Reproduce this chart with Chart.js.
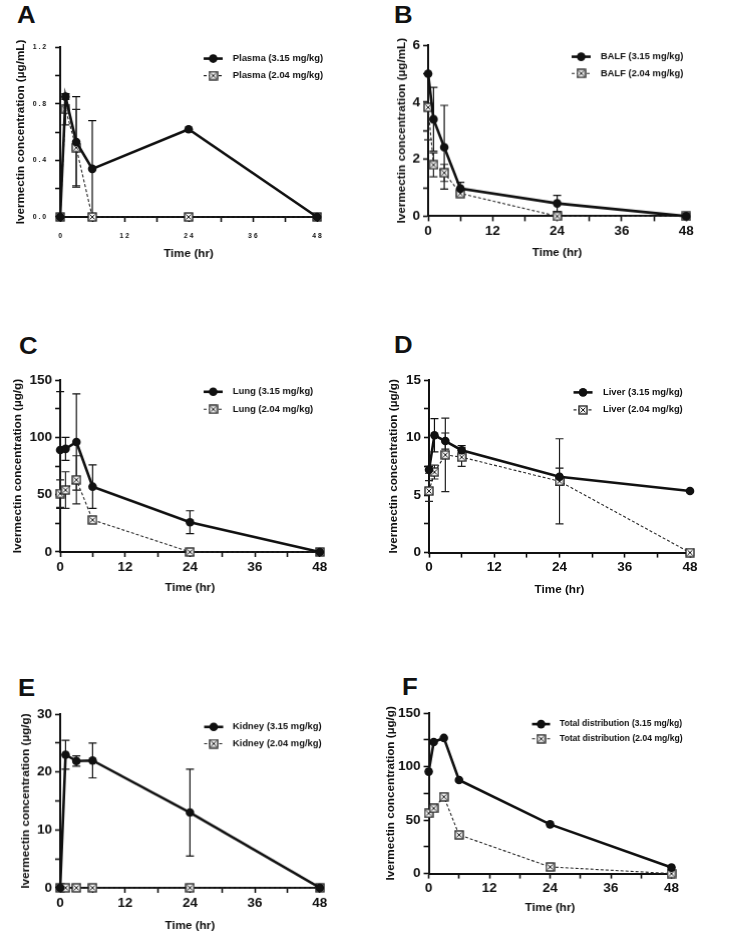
<!DOCTYPE html>
<html>
<head>
<meta charset="utf-8">
<script src="https://cdn.jsdelivr.net/npm/chart.js@4/dist/chart.umd.min.js"></script>
<style>
  body { margin: 0; background: #fff; width: 731px; height: 944px; position: relative; overflow: hidden;
         font-family: "Liberation Sans", Arial, sans-serif; }
  .letter { position: absolute; font-weight: bold; font-size: 23px; line-height: 1; color: #111;
            transform: scaleX(1.12); transform-origin: left top; }
  .box { position: absolute; }
</style>
</head>
<body>
<div class="letter" style="left:17px;top:4px">A</div>
<div class="letter" style="left:394px;top:4px">B</div>
<div class="letter" style="left:19px;top:335px">C</div>
<div class="letter" style="left:394px;top:334px">D</div>
<div class="letter" style="left:18px;top:677px">E</div>
<div class="letter" style="left:402px;top:676px">F</div>

<script>
// ---- data ----
const times = [0, 1, 3, 6, 24, 48];

const plasmaHigh   = [0, 0.85, 0.53, 0.34, 0.62, 0];
const plasmaHighSd = [0, 0.02, 0.32, 0.34, 0, 0];
const plasmaLow    = [0, 0.76, 0.49, 0, 0, 0];
const plasmaLowSd  = [0, 0.11, 0.27, 0, 0, 0];

const balfHigh   = [5.0, 3.4, 2.42, 0.97, 0.45, 0];
const balfHighSd = [0, 1.12, 1.47, 0.22, 0.28, 0];
const balfLow    = [3.82, 1.8, 1.52, 0.8, 0, 0];
const balfLowSd  = [1.14, 0.42, 0.3, 0.1, 0.15, 0];

const lungHigh   = [89, 90, 96, 57, 26, 0];
const lungHighSd = [51, 10, 42, 19, 10, 0];
const lungLow    = [51, 54, 63, 28, 0, 0];
const lungLowSd  = [12, 16, 21, 0, 0, 0];

const liverHigh   = [7.2, 10.2, 9.7, 8.9, 6.6, 5.35];
const liverHighSd = [0.3, 1.45, 0.7, 0.4, 0.75, 0];
const liverLow    = [5.35, 7.0, 8.5, 8.3, 6.2, 0];
const liverLowSd  = [0.9, 0.6, 3.2, 0.8, 3.7, 0];

const kidneyHigh   = [0, 23, 21.9, 22, 13, 0];
const kidneyHighSd = [0, 2.5, 0.9, 3.0, 7.5, 0];
const kidneyLow    = [0, 0, 0, 0, 0, 0];

const totalHigh = [95.3, 123, 126.8, 87.5, 46, 5.6];
const totalLow  = [56.3, 61, 71.8, 36.2, 6.2, 0];

const xTicksStep = 6, xMajor = 12, xMax = 48;

// ---- panel setup ----
const FONT = '"Liberation Sans", Arial, sans-serif';
const PT = 10, PR = 12;

const panels = [
  { L: 60.5, T: 44.3, R: 319.3, B: 217.3, yGap: 39, xGap: 37,
    yTitle: 'Ivermectin concentration (µg/mL)', yMax: 1.2, yStep: 0.2, yMajor: 0.4, spaced: true,
    labels: ['Plasma (3.15 mg/kg)', 'Plasma (2.04 mg/kg)'],
    high: plasmaHigh, highSd: plasmaHighSd, low: plasmaLow, lowSd: plasmaLowSd,
    leg: { dx: 143, dy: 11.5, gap: 17, len: 19, textDx: 29, size: 9.4 } },
  { L: 428.5, T: 44.3, R: 685.7, B: 215.7, yGap: 26, xGap: 36.5,
    yTitle: 'Ivermectin concentration (µg/mL)', yMax: 6, yStep: 1, yMajor: 2,
    labels: ['BALF (3.15 mg/kg)', 'BALF (2.04 mg/kg)'],
    high: balfHigh, highSd: balfHighSd, low: balfLow, lowSd: balfLowSd,
    leg: { dx: 143, dy: 11.5, gap: 16.6, len: 19, textDx: 29, size: 9.4 } },
  { L: 60.5, T: 379.3, R: 319.3, B: 552.3, yGap: 42, xGap: 36,
    yTitle: 'Ivermectin concentration (µg/g)', yMax: 150, yStep: 25, yMajor: 50,
    labels: ['Lung (3.15 mg/kg)', 'Lung (2.04 mg/kg)'],
    high: lungHigh, highSd: lungHighSd, low: lungLow, lowSd: lungLowSd,
    leg: { dx: 143, dy: 11.7, gap: 17.5, len: 19, textDx: 29, size: 9.4 } },
  { L: 429, T: 378.7, R: 690, B: 552.3, yGap: 35, xGap: 37,
    yTitle: 'Ivermectin concentration (µg/g)', yMax: 15, yStep: 2.5, yMajor: 5,
    labels: ['Liver (3.15 mg/kg)', 'Liver (2.04 mg/kg)'],
    high: liverHigh, highSd: liverHighSd, low: liverLow, lowSd: liverLowSd,
    leg: { dx: 144.5, dy: 12.3, gap: 17.5, len: 19, textDx: 29.5, size: 9.4 } },
  { L: 60.5, T: 713.3, R: 319.3, B: 887.3, yGap: 34, xGap: 37.5,
    yTitle: 'Ivermectin concentration (µg/g)', yMax: 30, yStep: 5, yMajor: 10,
    labels: ['Kidney (3.15 mg/kg)', 'Kidney (2.04 mg/kg)'],
    high: kidneyHigh, highSd: kidneyHighSd, low: kidneyLow, lowSd: null,
    leg: { dx: 143.5, dy: 12.7, gap: 16.7, len: 19, textDx: 28.5, size: 9.4 } },
  { L: 429, T: 711.7, R: 671, B: 873.3, yGap: 37.5, xGap: 34,
    yTitle: 'Ivermectin concentration (µg/g)', yMax: 150, yStep: 25, yMajor: 50,
    labels: ['Total distribution (3.15 mg/kg)', 'Totat distribution (2.04 mg/kg)'],
    high: totalHigh, highSd: null, low: totalLow, lowSd: null,
    leg: { dx: 103, dy: 11, gap: 14.7, len: 18, textDx: 27.5, size: 8.6 } },
];

function makeBoxMarker(size) {
  const c = document.createElement('canvas');
  c.width = size; c.height = size;
  const g = c.getContext('2d');
  g.fillStyle = '#f4f4f4';
  g.fillRect(1, 1, size - 2, size - 2);
  g.strokeStyle = '#1e1e1e';
  g.lineWidth = 1.3;
  g.strokeRect(1, 1, size - 2, size - 2);
  g.lineWidth = 1;
  g.beginPath();
  g.moveTo(2.5, 2.5); g.lineTo(size - 2.5, size - 2.5);
  g.moveTo(size - 2.5, 2.5); g.lineTo(2.5, size - 2.5);
  g.stroke();
  return c;
}
const boxMark = makeBoxMarker(10);

const pts = vals => times.map((t, i) => ({ x: t, y: vals[i] }));
const isMul = (v, m) => Math.abs(v / m - Math.round(v / m)) < 1e-6;

// error bars drawn under the markers
const errorBars = {
  id: 'errorBars',
  beforeDatasetsDraw(chart) {
    const { ctx, scales: { x, y } } = chart;
    chart.data.datasets.forEach(ds => {
      if (!ds.errors) return;
      ctx.save();
      ctx.strokeStyle = ds.errorColor;
      ctx.lineWidth = 1.2;
      ds.data.forEach((pt, i) => {
        const e = ds.errors[i];
        if (!e) return;
        const px = x.getPixelForValue(pt.x);
        const top = y.getPixelForValue(pt.y + e);
        const bot = y.getPixelForValue(Math.max(pt.y - e, 0));
        ctx.beginPath();
        ctx.moveTo(px, top); ctx.lineTo(px, bot);
        ctx.moveTo(px - 4, top); ctx.lineTo(px + 4, top);
        ctx.moveTo(px - 4, bot); ctx.lineTo(px + 4, bot);
        ctx.stroke();
      });
      ctx.restore();
    });
  }
};

// legend: short line with marker, then label
const panelLegend = {
  id: 'panelLegend',
  afterDraw(chart, args, opts) {
    const { ctx, chartArea } = chart;
    chart.data.datasets.forEach((ds, i) => {
      const x0 = chartArea.left + opts.dx;
      const y0 = chartArea.top + opts.dy + i * opts.gap;
      ctx.save();
      ctx.strokeStyle = ds.borderColor;
      ctx.lineWidth = ds.borderWidth;
      ctx.setLineDash(ds.borderDash || []);
      ctx.beginPath();
      ctx.moveTo(x0, y0); ctx.lineTo(x0 + opts.len, y0);
      ctx.stroke();
      ctx.setLineDash([]);
      ctx.fillStyle = ds.pointBackgroundColor;
      Chart.helpers.drawPoint(ctx, { pointStyle: ds.pointStyle, radius: ds.pointRadius, borderWidth: 0, rotation: 0 },
        x0 + opts.len / 2, y0);
      ctx.fillStyle = '#111';
      ctx.font = `bold ${opts.size}px ${FONT}`;
      ctx.textBaseline = 'middle';
      ctx.textAlign = 'left';
      ctx.fillText(ds.label, x0 + opts.textDx, y0);
      ctx.restore();
    });
  }
};

panels.forEach(p => {
  const titleSize = 11.7;
  const half = titleSize * 1.2 / 2;
  const YW = p.yGap + half;
  const XH = p.xGap + half;
  const tickSize = p.spaced ? 6.8 : 13.5;

  const box = document.createElement('div');
  box.className = 'box';
  box.style.left = (p.L - YW) + 'px';
  box.style.top = (p.T - PT) + 'px';
  box.style.width = (p.R - p.L + YW + PR) + 'px';
  box.style.height = (p.B - p.T + PT + XH) + 'px';
  const canvas = document.createElement('canvas');
  box.appendChild(canvas);
  document.body.appendChild(box);

  new Chart(canvas, {
    type: 'line',
    data: {
      datasets: [
        { label: p.labels[0], data: pts(p.high), errors: p.highSd, errorColor: '#111',
          borderColor: '#111', backgroundColor: '#111', pointBackgroundColor: '#111',
          borderWidth: 2.6, pointStyle: 'circle', pointRadius: 4.3, pointBorderWidth: 0,
          tension: 0, clip: false },
        { label: p.labels[1], data: pts(p.low), errors: p.lowSd, errorColor: '#222',
          borderColor: '#2a2a2a', backgroundColor: '#f4f4f4', pointBackgroundColor: '#f4f4f4',
          borderWidth: 1.1, borderDash: [3, 2], pointStyle: boxMark, pointRadius: 5,
          tension: 0, clip: false },
      ]
    },
    options: {
      animation: false,
      responsive: true,
      maintainAspectRatio: false,
      devicePixelRatio: 1,
      layout: { padding: { top: PT, right: PR, left: 0, bottom: 0 } },
      plugins: {
        legend: { display: false },
        tooltip: { enabled: false },
        panelLegend: p.leg,
      },
      scales: {
        x: {
          type: 'linear', min: 0, max: xMax,
          afterFit(scale) { scale.height = XH; },
          border: { display: true, color: '#111', width: 2 },
          grid: { drawOnChartArea: false, drawTicks: true, tickLength: 5, tickColor: '#111', tickWidth: 1.6 },
          ticks: {
            stepSize: xTicksStep, autoSkip: false, maxRotation: 0, color: '#111',
            padding: p.spaced ? 10 : 2,
            font: { family: FONT, size: tickSize, weight: 'bold' },
            callback: v => isMul(v, xMajor) ? (p.spaced ? String(v).split('').join(' ') : String(v)) : ''
          },
          title: { display: true, text: 'Time (hr)', color: '#111', padding: { top: 0, bottom: 0 },
                   font: { family: FONT, size: titleSize, weight: 'bold' } }
        },
        y: {
          type: 'linear', min: 0, max: p.yMax,
          afterFit(scale) { scale.width = YW; },
          border: { display: true, color: '#111', width: 2 },
          grid: { drawOnChartArea: false, drawTicks: true, tickLength: 5, tickColor: '#111', tickWidth: 1.6 },
          ticks: {
            stepSize: p.yStep, autoSkip: false, color: '#111',
            padding: p.spaced ? 9 : 3,
            font: { family: FONT, size: tickSize, weight: 'bold' },
            callback: v => isMul(v, p.yMajor)
              ? (p.spaced ? v.toFixed(1).split('').join(' ') : String(v)) : ''
          },
          title: { display: true, text: p.yTitle, color: '#111', padding: { top: 0, bottom: 0 },
                   font: { family: FONT, size: titleSize, weight: 'bold' } }
        }
      }
    },
    plugins: [errorBars, panelLegend]
  });
});
</script>
</body>
</html>
